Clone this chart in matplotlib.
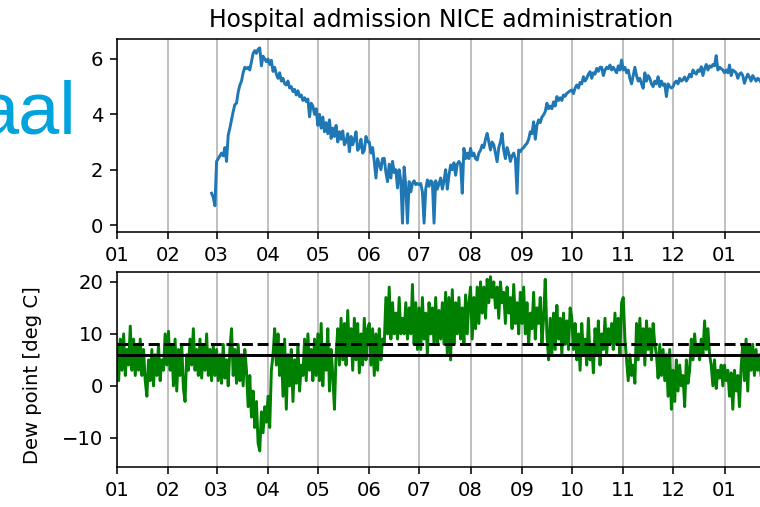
import numpy as np
import pandas as pd
import matplotlib
matplotlib.use('Agg')
import matplotlib.pyplot as plt
import matplotlib.dates as mdates
from matplotlib.patches import Rectangle

# hospital admissions (NICE), daily from 2020-02-27
hosp_feb = [1.15, 1.0, 0.7]
hosp_mar = [2.3, 2.4, 2.5, 2.6, 2.5, 2.8, 2.3, 3.25, 3.5, 3.8, 4.1, 4.35, 4.4, 4.8, 5.05, 5.2,
            5.5, 5.7, 5.65, 5.7, 5.6, 5.9, 6.2, 6.3, 6.2, 6.35, 6.4, 5.75, 6.1, 6.0, 5.9]
hosp_apr = [6.0, 5.8, 5.95, 5.55, 5.7, 5.45, 5.3, 5.5, 5.2, 5.3, 5.1, 5.06, 5.2, 4.95, 5.0,
            4.82, 4.9, 4.7, 4.85, 4.64, 4.7, 4.5, 4.6, 4.46, 4.55, 3.91, 4.4, 4.3, 4.0, 4.2]
hosp_may = [3.6, 4.0, 3.5, 3.9, 3.37, 3.7, 3.3, 3.8, 3.13, 3.5, 3.2, 3.6, 3.0, 3.37, 3.1, 3.4,
            2.9, 3.01, 3.3, 2.65, 3.2, 2.9, 3.1, 3.37, 2.7, 2.8, 3.1, 2.6, 2.7, 3.2, 3.0]
hosp_jun = [3.0, 2.6, 2.8, 2.3, 1.7, 2.4, 2.2, 2.0, 2.4, 2.41, 1.9, 1.57, 2.2, 1.7, 2.3, 1.9,
            2.0, 1.34, 2.0, 1.6, 0.07, 2.1, 1.4, 0.07, 1.57, 1.2, 1.5, 1.6, 1.46, 1.5]
hosp_jul = [1.46, 1.5, 1.2, 0.07, 1.3, 1.63, 1.4, 1.6, 1.55, 0.07, 1.6, 1.3, 1.5, 1.7, 1.3, 1.6,
            2.0, 1.3, 1.8, 2.17, 2.0, 2.25, 1.8, 2.2, 2.3, 2.2, 1.15, 2.77, 2.4, 2.6, 2.4]
hosp_aug = [2.77, 2.5, 2.6, 2.4, 2.35, 2.6, 2.7, 2.89, 2.8, 3.1, 3.31, 3.0, 2.71, 3.0, 2.9, 2.6,
            2.29, 2.8, 3.0, 3.31, 2.7, 2.4, 2.8, 2.6, 2.3, 2.5, 2.6, 2.4, 1.15, 2.71, 2.65]
hosp_sep = [2.75, 2.8, 2.89, 2.95, 3.1, 3.37, 3.3, 3.73, 3.1, 3.6, 3.8, 3.7, 3.9, 3.98, 4.1,
            4.4, 4.2, 4.3, 4.2, 4.45, 4.3, 4.64, 4.5, 4.6, 4.5, 4.7, 4.65, 4.76, 4.8, 4.85]
hosp_oct = [4.88, 4.75, 4.95, 5.06, 4.95, 5.15, 5.1, 5.36, 5.2, 5.3, 5.45, 5.54, 5.3, 5.5, 5.45,
            5.66, 5.55, 5.7, 5.7, 5.4, 5.6, 5.7, 5.65, 5.78, 5.6, 5.7, 5.6, 5.5, 5.75, 5.6, 5.96]
hosp_nov = [5.6, 5.7, 5.5, 5.6, 5.3, 5.1, 5.4, 5.7, 5.4, 5.2, 5.3, 5.1, 4.94, 5.5, 5.2, 5.4,
            5.3, 5.1, 5.0, 5.2, 5.1, 5.36, 5.0, 5.2, 5.05, 5.1, 4.64, 5.1, 5.0, 4.95]
hosp_dec = [5.0, 5.15, 5.2, 5.1, 5.3, 5.2, 5.25, 5.35, 5.2, 5.3, 5.45, 5.35, 5.6, 5.5, 5.45,
            5.6, 5.55, 5.72, 5.4, 5.65, 5.8, 5.6, 5.75, 5.7, 5.8, 5.75, 6.12, 5.6, 5.7, 5.65, 5.6]
hosp_jan21 = [5.5, 5.6, 5.5, 5.78, 5.4, 5.6, 5.55, 5.5, 5.3, 5.45, 5.5, 5.4, 5.12, 5.3, 5.45,
              5.35, 5.2, 5.4, 5.3, 5.2, 5.3, 5.25, 5.15, 5.3, 5.2, 5.1, 5.25, 5.2, 5.1, 5.2, 5.15]

# dew point [deg C], daily from 2020-01-01
dew_jan = [8, 1, 9, 3, 10, 2, 7, 4, 11.5, 3, 9, 2, 8, 3, 9, 2, 7, 1, -2, 5, 1, 7, 0, 6, 2, 8,
           1, 5, 3, 10, 4]
dew_feb = [10.5, 3, 8, 0, 9, -1, 7, 2, 8, -0.5, -3, 6, 3, 9, 4, 11, 3, 7, 2, 9, 1.5, 8, 3, 10,
           2, 7, 1, 8, 2]
dew_mar = [7, 1, 6, 0.5, 8, 1.5, 5, 0, 7, 11, 2, 7, 0.5, 8, 1, 6, 0, 7, 3, -4, 2, -6, -1, -8,
           -3, -11, -12.5, -5, -9, -4, -7]
dew_apr = [-2, -8, 3, 6, 11, 4, 10, 2, 8, -2, 9, -4.5, 6, 0, 7, -3, 5, 0.5, 8, -1, 4, 2, 9, 1,
           10, 3, 7, 1, 9, 2]
dew_may = [10, 1, 12, 0, 8, 3, 11, -1, 7, 2, -4.5, 6, 11, 4, 13, 5, 12, 4, 14.5, 6, 11, 3, 13,
           5, 12, 2.5, 10, 4, 13, 5, 11]
dew_jun = [12, 4, 11, 2, 10, 3, 11, 5, 9, 8, 17, 10, 19, 9, 16, 10, 14, 9, 17, 10, 13, 10, 16,
           9, 15, 10, 19.5, 8, 16, 7]
dew_jul = [15, 7, 17, 9, 14, 6, 16, 10, 15, 8, 17, 8, 14.5, 9, 16, 8, 18, 6, 17, 5, 18.5, 8, 16,
           10, 17, 9, 15, 8, 17.5, 10, 16]
dew_aug = [19, 9, 17, 11, 19, 12, 20, 14, 19, 13, 20.5, 16, 21, 17, 20, 15, 19, 13, 20, 16, 18,
           12, 19, 14, 17, 11, 19.5, 12, 16, 10, 18]
dew_sep = [12, 19, 10, 16, 8, 14, 11, 18, 9, 15, 12, 17, 8, 13, 20.5, 10, 5, 13, 6, 14, 7, 15.5,
           9, 13, 6, 14, 8, 12.5, 7, 15]
dew_oct = [13, 7, 12, 5, 10, 3, 12, 6, 9, 4, 13, 5, 8, 2.5, 11, 6, 12.5, 4, 10, 7, 13, 6, 11, 8,
           12, 7, 14, 8, 13, 6, 16]
dew_nov = [17, 9, 5, 1, 6, 2, 4, 0.5, 12, 5, 13, 6, 11, 4, 12.5, 7, 11, 5, 12, 8, 6, 1.5, 8, 2,
           7, 1, 6, -2, 7, -4.5]
dew_dec = [3, -3, 5, -1, 4, 0, 2, -4, 5, 0.5, 3, 9, 5, 10, 6, 8, 5, 9, 6, 12.5, 7, 11, 6, 4, 0,
           5, -0.5, 3, 1.5, 4, 0]
dew_jan21 = [4, 1, 3, -2, 2.5, -4.5, 3, -1, 2, -4, 3.5, 8, 1, 9, -1, 8, 3, 8, 2, 7, 3, 6, 2, 7,
             4, 6, 3, 5, 2, 6, 4]

dew_mean = 6   # solid line
dew_upper = 8  # dashed line

hosp_yticks = [0, 2, 4, 6]
dew_yticks = [-10, 0, 10, 20]

hosp = np.concatenate([hosp_feb, hosp_mar, hosp_apr, hosp_may, hosp_jun, hosp_jul, hosp_aug,
                       hosp_sep, hosp_oct, hosp_nov, hosp_dec, hosp_jan21])
dew = np.concatenate([dew_jan, dew_feb, dew_mar, dew_apr, dew_may, dew_jun, dew_jul, dew_aug,
                      dew_sep, dew_oct, dew_nov, dew_dec, dew_jan21])
hosp_dates = pd.date_range('2020-02-27', periods=len(hosp), freq='D')
dew_dates = pd.date_range('2020-01-01', periods=len(dew), freq='D')

dpi = 141
W, H = 760, 507
fig = plt.figure(figsize=(W / dpi, H / dpi), dpi=dpi)
# axes run a little past the right edge, like the cropped screenshot
ax1 = fig.add_axes([117 / W, 1 - 232 / H, 649 / W, 193 / H])
ax2 = fig.add_axes([117 / W, 1 - 467 / H, 649 / W, 195 / H])

ax1.plot(hosp_dates, hosp, color='C0')
ax1.set_title('Hospital admission NICE administration')
ax1.set_ylim(-0.25, 6.72)
ax1.set_yticks(hosp_yticks)

ax2.plot(dew_dates, dew, color='green')
ax2.axhline(dew_mean, color='k')
ax2.axhline(dew_upper, color='k', ls='--')
ax2.set_ylim(-15.6, 21.9)
ax2.set_yticks(dew_yticks)
ax2.set_ylabel('Dew point [deg C]')
ax2.yaxis.set_label_coords(-0.115, 0.47)

for ax in (ax1, ax2):
    ax.set_xlim(pd.Timestamp('2020-01-01'), pd.Timestamp('2021-01-26'))
    ax.xaxis.set_major_locator(mdates.MonthLocator())
    ax.xaxis.set_major_formatter(mdates.DateFormatter('%m'))
    ax.grid(axis='x')

# slide text left of the chart (cut off)
fig.text(77 / W, 1 - 133 / H, 'aal', fontsize=37.8, color='#00a3dc',
         family='Liberation Sans', ha='right', va='baseline')
# bottom of the screenshot cuts through the tick labels
fig.patches.append(Rectangle((0, 0), 1, 9 / H, transform=fig.transFigure,
                             color='white', zorder=10))

fig.savefig('out.png', dpi=dpi)
